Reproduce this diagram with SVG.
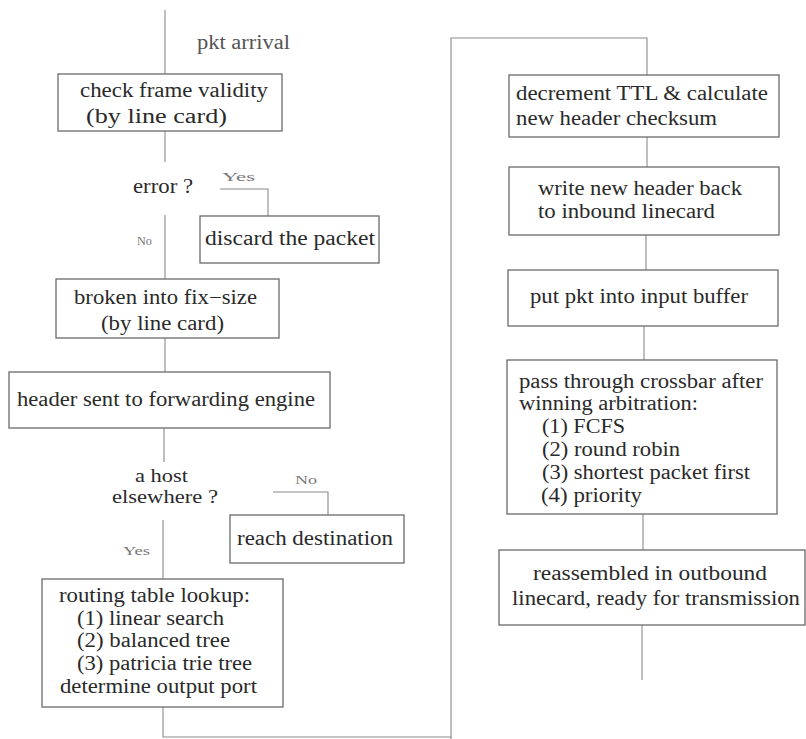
<svg xmlns="http://www.w3.org/2000/svg" width="806" height="739" viewBox="0 0 806 739">
<style>
.box{fill:none;stroke:#6a6a6a;stroke-width:1.3}
.ln{fill:none;stroke:#8a8a8a;stroke-width:1.1}
text{font-family:'Liberation Serif',serif;fill:#2a2a2a;font-size:20px}
.lbl{font-size:13px;fill:#777}
.note{fill:#555}
.sm{font-size:18px}
</style>
<rect width="806" height="739" fill="#fff"/>
<g id="connectors">
<path class="ln" d="M165 10V74"/>
<path class="ln" d="M165 131V162"/>
<path class="ln" d="M220 189H268V216"/>
<path class="ln" d="M165 215V279"/>
<path class="ln" d="M165 338V372"/>
<path class="ln" d="M164 428V462"/>
<path class="ln" d="M273 492H328V515"/>
<path class="ln" d="M163 520V579"/>
<path class="ln" d="M163 707V737H451V38H647V75"/>
<path class="ln" d="M451 737V739"/>
<path class="ln" d="M647 137V167"/>
<path class="ln" d="M646 235V270"/>
<path class="ln" d="M644 326V360"/>
<path class="ln" d="M643 514V550"/>
<path class="ln" d="M642 625V680"/>
</g>
<text class="note" x="197" y="49" textLength="93" lengthAdjust="spacingAndGlyphs">pkt arrival</text>
<g id="n1">
<rect class="box" x="58" y="74" width="224" height="57"/>
<text x="80" y="97" textLength="188" lengthAdjust="spacingAndGlyphs">check frame validity</text>
<text x="86" y="123" textLength="141" lengthAdjust="spacingAndGlyphs">(by line card)</text>
</g>
<g id="n2">
<text x="133" y="193" textLength="60" lengthAdjust="spacingAndGlyphs">error ?</text>
<text class="lbl" x="222" y="181" textLength="33" lengthAdjust="spacingAndGlyphs">Yes</text>
<text class="lbl" x="137" y="245" textLength="15" lengthAdjust="spacingAndGlyphs">No</text>
</g>
<g id="n3">
<rect class="box" x="200" y="216" width="179" height="47"/>
<text x="205" y="245" textLength="170" lengthAdjust="spacingAndGlyphs">discard the packet</text>
</g>
<g id="n4">
<rect class="box" x="56" y="279" width="223" height="59"/>
<text x="74" y="304" textLength="183" lengthAdjust="spacingAndGlyphs">broken into fix−size</text>
<text x="101" y="330" textLength="123" lengthAdjust="spacingAndGlyphs">(by line card)</text>
</g>
<g id="n5">
<rect class="box" x="9" y="372" width="321" height="56"/>
<text x="17" y="406" textLength="298" lengthAdjust="spacingAndGlyphs">header sent to forwarding engine</text>
</g>
<g id="n6">
<text class="sm" x="135" y="482" textLength="53" lengthAdjust="spacingAndGlyphs">a host</text>
<text class="sm" x="112" y="503" textLength="106" lengthAdjust="spacingAndGlyphs">elsewhere ?</text>
<text class="lbl" x="295" y="484" textLength="22" lengthAdjust="spacingAndGlyphs">No</text>
<text class="lbl" x="123" y="555" textLength="27" lengthAdjust="spacingAndGlyphs">Yes</text>
</g>
<g id="n7">
<rect class="box" x="230" y="515" width="174" height="48"/>
<text x="237" y="545" textLength="156" lengthAdjust="spacingAndGlyphs">reach destination</text>
</g>
<g id="n8">
<rect class="box" x="42" y="579" width="241" height="128"/>
<text x="59" y="602" textLength="191" lengthAdjust="spacingAndGlyphs">routing table lookup:</text>
<text x="77" y="625" textLength="147" lengthAdjust="spacingAndGlyphs">(1) linear search</text>
<text x="77" y="647" textLength="153" lengthAdjust="spacingAndGlyphs">(2) balanced tree</text>
<text x="77" y="670" textLength="175" lengthAdjust="spacingAndGlyphs">(3) patricia trie tree</text>
<text x="60" y="693" textLength="197" lengthAdjust="spacingAndGlyphs">determine output port</text>
</g>
<g id="n9">
<rect class="box" x="509" y="75" width="270" height="62"/>
<text x="516" y="100" textLength="252" lengthAdjust="spacingAndGlyphs">decrement TTL &amp; calculate</text>
<text x="516" y="125" textLength="201" lengthAdjust="spacingAndGlyphs">new header checksum</text>
</g>
<g id="n10">
<rect class="box" x="509" y="167" width="270" height="68"/>
<text x="538" y="195" textLength="204" lengthAdjust="spacingAndGlyphs">write new header back</text>
<text x="538" y="218" textLength="177" lengthAdjust="spacingAndGlyphs">to inbound linecard</text>
</g>
<g id="n11">
<rect class="box" x="508" y="270" width="270" height="56"/>
<text x="530" y="303" textLength="218" lengthAdjust="spacingAndGlyphs">put pkt into input buffer</text>
</g>
<g id="n12">
<rect class="box" x="507" y="360" width="270" height="154"/>
<text x="519" y="388" textLength="244" lengthAdjust="spacingAndGlyphs">pass through crossbar after</text>
<text x="519" y="410" textLength="179" lengthAdjust="spacingAndGlyphs">winning arbitration:</text>
<text x="542" y="433" textLength="83" lengthAdjust="spacingAndGlyphs">(1) FCFS</text>
<text x="542" y="456" textLength="138" lengthAdjust="spacingAndGlyphs">(2) round robin</text>
<text x="542" y="479" textLength="208" lengthAdjust="spacingAndGlyphs">(3) shortest packet first</text>
<text x="541" y="502" textLength="101" lengthAdjust="spacingAndGlyphs">(4) priority</text>
</g>
<g id="n13">
<rect class="box" x="499" y="550" width="306" height="75"/>
<text x="533" y="580" textLength="234" lengthAdjust="spacingAndGlyphs">reassembled  in outbound</text>
<text x="512" y="605" textLength="288" lengthAdjust="spacingAndGlyphs">linecard, ready for transmission</text>
</g>
</svg>
